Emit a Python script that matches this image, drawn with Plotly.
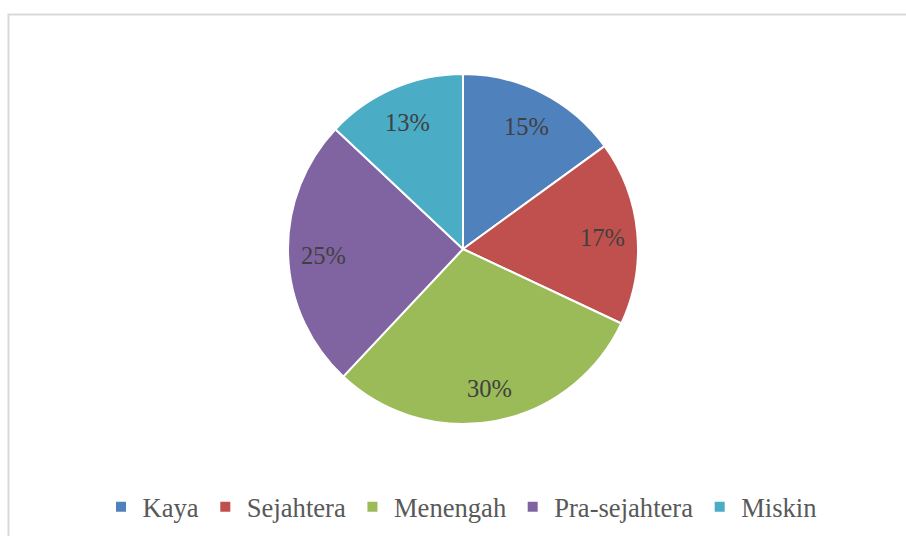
import math
import plotly.graph_objects as go

categories = ["Kaya", "Sejahtera", "Menengah", "Pra-sejahtera", "Miskin"]
values = [15, 17, 30, 25, 13]
colors = ["#4F81BD", "#C0504D", "#9BBB59", "#8064A2", "#4BACC6"]

W, H = 906, 536
cx, cy, R = 463, 249, 175
FONT = "'Liberation Serif', 'Times New Roman', serif"

fig = go.Figure(go.Pie(
    labels=categories,
    values=values,
    sort=False,
    direction="clockwise",
    rotation=0,
    marker=dict(colors=colors, line=dict(color="white", width=2)),
    textinfo="none",
    domain=dict(x=[(cx - R) / W, (cx + R) / W], y=[(H - cy - R) / H, (H - cy + R) / H]),
    hoverinfo="label+percent",
))

# percentage labels placed along each slice's bisector (derived from the values)
total = sum(values)
cum = 0
for v in values:
    mid = (cum + v / 2) / total * 2 * math.pi
    cum += v
    rr = 0.8 * R
    px = cx + rr * math.sin(mid)
    py = cy - rr * math.cos(mid) + 2
    fig.add_annotation(x=px / W, y=1 - py / H, xref="paper", yref="paper",
                       xanchor="center", yanchor="middle",
                       text=f"{round(v / total * 100)}%", showarrow=False,
                       font=dict(family=FONT, size=24.5, color="#404040"))

fig.add_shape(type="rect", xref="paper", yref="paper",
              x0=8.5 / W, x1=1.02, y0=-0.02, y1=1 - 14.5 / H,
              line=dict(color="#D9D9D9", width=2), fillcolor="rgba(0,0,0,0)", layer="below")

fig.update_layout(
    width=W, height=H,
    margin=dict(l=0, r=0, t=0, b=0, autoexpand=False),
    paper_bgcolor="white", plot_bgcolor="white",
    showlegend=True,
    legend=dict(orientation="h", x=461 / W, xanchor="center", y=(H - 507) / H, yanchor="middle",
                font=dict(family=FONT, size=26.6, color="#595959"),
                itemwidth=33,
                traceorder="normal", itemclick=False),
)

fig.write_html("out.html")
